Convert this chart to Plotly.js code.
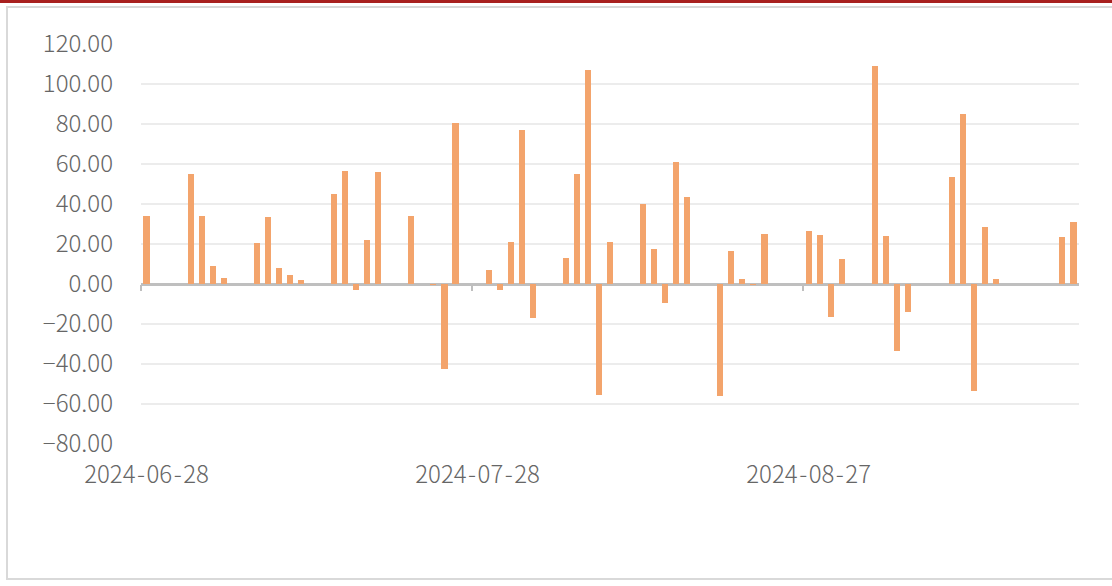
<!DOCTYPE html>
<html>
<head>
<meta charset="utf-8">
<script src="https://cdn.plot.ly/plotly-3.0.1.min.js"></script>
<style>
  html, body { margin: 0; padding: 0; background: #ffffff; overflow: hidden; }
  #redline { position: absolute; left: 0; top: 0; width: 1112px; height: 3px; background: #a8201f; }
  #frame { position: absolute; left: 6px; top: 6px; width: 1120px; height: 574px; border: 2px solid #d9d9d9; box-sizing: border-box; }
  #chart { position: absolute; left: 0; top: 0; width: 1112px; height: 586px; }
</style>
</head>
<body>
<div id="redline"></div>
<div id="frame"></div>
<div id="chart"></div>
<script>
const dates = [
  "2024-06-28","2024-07-02","2024-07-03","2024-07-04","2024-07-05",
  "2024-07-08","2024-07-09","2024-07-10","2024-07-11","2024-07-12",
  "2024-07-15","2024-07-16","2024-07-17","2024-07-18","2024-07-19",
  "2024-07-22","2024-07-24","2024-07-25","2024-07-26",
  "2024-07-29","2024-07-30","2024-07-31","2024-08-01","2024-08-02",
  "2024-08-05","2024-08-06","2024-08-07","2024-08-08","2024-08-09",
  "2024-08-12","2024-08-13","2024-08-14","2024-08-15","2024-08-16",
  "2024-08-19","2024-08-20","2024-08-21","2024-08-22","2024-08-23",
  "2024-08-27","2024-08-28","2024-08-29","2024-08-30",
  "2024-09-02","2024-09-03","2024-09-04","2024-09-05",
  "2024-09-09","2024-09-10","2024-09-11","2024-09-12","2024-09-13",
  "2024-09-19","2024-09-20"
];
const values = [
  34.0, 55.0, 34.0, 9.0, 3.2,
  20.3, 33.7, 7.8, 4.3, 1.8,
  44.8, 56.3, -3.0, 22.2, 56.2,
  34.0, -0.5, -42.3, 80.7,
  7.0, -3.0, 21.2, 77.0, -16.8,
  12.8, 54.8, 107.0, -55.3, 21.0,
  40.0, 17.7, -9.3, 60.8, 43.5,
  -56.0, 16.5, 2.7, -0.5, 25.0,
  26.3, 24.5, -16.5, 12.5,
  108.8, 24.0, -33.3, -14.0,
  53.3, 85.0, -53.3, 28.3, 2.3,
  23.7, 30.8
];
const xTickStart = "2024-06-28";
const xRange = ["2024-06-28", "2024-09-21"];
const yRange = [-80, 120];

const DAY = 86400000;
const xCenters = dates.map(d => d + " 12:00");
const labelFont = { family: "Noto Sans CJK SC, Noto Sans, sans-serif", size: 24, color: "#666666", weight: 300 };

const trace = {
  type: "bar",
  x: xCenters,
  y: values,
  width: 0.55 * DAY,
  marker: { color: "#f3a46c", line: { width: 0 } },
  hoverinfo: "x+y"
};

const layout = {
  width: 1112, height: 586,
  margin: { l: 141, r: 33, t: 44, b: 142 },
  paper_bgcolor: "rgba(0,0,0,0)",
  plot_bgcolor: "rgba(0,0,0,0)",
  showlegend: false,
  bargap: 0,
  xaxis: {
    type: "date",
    range: xRange,
    tick0: xTickStart + " 12:00",
    dtick: 30 * DAY,
    tickformat: "%Y\u200A-\u200A%m\u200A-\u200A%d",
    ticks: "",
    showgrid: false,
    showline: false,
    zeroline: false,
    tickfont: labelFont,
    ticklabelstandoff: 14
  },
  xaxis2: {
    type: "date",
    matches: "x",
    overlaying: "x",
    anchor: "free",
    position: 0.4,
    tick0: xTickStart,
    dtick: 30 * DAY,
    ticks: "outside",
    ticklen: 6,
    tickwidth: 2,
    tickcolor: "#bfbfbf",
    showticklabels: false,
    showgrid: false,
    showline: false,
    zeroline: false
  },
  yaxis: {
    range: yRange,
    dtick: 20,
    tick0: 0,
    tickformat: ".2f",
    showgrid: true,
    gridcolor: "#ececec",
    gridwidth: 1.5,
    zeroline: true,
    zerolinecolor: "#bfbfbf",
    zerolinewidth: 3,
    showline: false,
    ticks: "",
    tickfont: labelFont,
    ticklabelstandoff: 27
  }
};

const tickTrace = { type: "scatter", x: [xCenters[0]], y: [null], xaxis: "x2", yaxis: "y", hoverinfo: "skip", showlegend: false };

Plotly.newPlot("chart", [trace, tickTrace], layout, { displayModeBar: false, staticPlot: true });
</script>
</body>
</html>
